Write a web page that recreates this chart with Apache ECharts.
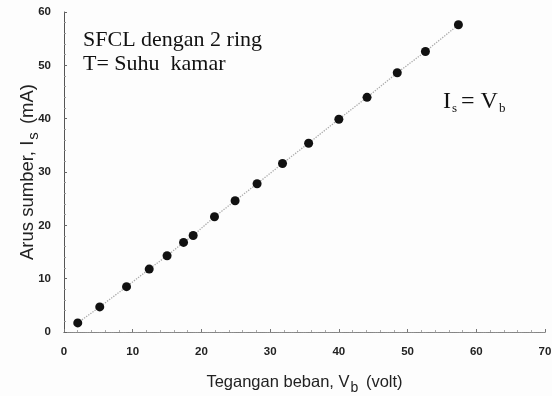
<!DOCTYPE html>
<html>
<head>
<meta charset="utf-8">
<script src="https://cdn.jsdelivr.net/npm/echarts@6/dist/echarts.min.js"></script>
<style>
  html, body { margin: 0; padding: 0; background: #fdfdfd; }
  #chart { width: 552px; height: 396px; }
</style>
</head>
<body>
<div id="chart"></div>
<script>
// Load voltage V_b (volt) and source current I_s (mA), SFCL with 2 rings at room temperature
const loadVoltage = [2.0, 5.2, 9.1, 12.4, 15.0, 17.4, 18.8, 21.9, 24.9, 28.1, 31.8, 35.6, 40.0, 44.1, 48.5, 52.6, 57.4];
const sourceCurrent = [1.7, 4.7, 8.5, 11.8, 14.3, 16.8, 18.1, 21.6, 24.6, 27.8, 31.6, 35.4, 39.9, 44.0, 48.6, 52.6, 57.6];

const xTicks = { min: 0, max: 70, interval: 10 };
const yTicks = { min: 0, max: 60, interval: 10 };

const points = loadVoltage.map((v, i) => [v, sourceCurrent[i]]);

const chart = echarts.init(document.getElementById('chart'));

const sans = 'Liberation Sans, Arial, sans-serif';
const serif = 'Liberation Serif, Times New Roman, serif';

const tickLabel = {
  color: '#222',
  fontFamily: sans,
  fontSize: 11.5,
  fontWeight: 'bold'
};

chart.setOption({
  backgroundColor: '#fdfdfd',
  animation: false,
  grid: { left: 64, right: 7, top: 12, bottom: 64, containLabel: false, outerBoundsMode: 'none' },
  xAxis: [{
    type: 'value',
    min: xTicks.min, max: xTicks.max, interval: xTicks.interval,
    name: '{t|Tegangan beban, V}{s|b}{t| (volt)}',
    nameLocation: 'middle',
    nameGap: 38,
    nameMoveOverlap: false,
    nameTextStyle: {
      rich: {
        t: { fontFamily: sans, fontSize: 16.5, color: '#222', lineHeight: 20 },
        s: { fontFamily: sans, fontSize: 14, color: '#222', padding: [11, 3, 0, 1] }
      }
    },
    axisLine: { lineStyle: { color: '#777', type: 'dotted', width: 1 } },
    axisTick: { inside: true, length: 3, lineStyle: { color: '#777' } },
    minorTick: { show: true, splitNumber: 5, length: 2, lineStyle: { color: '#aaa' } },
    axisLabel: Object.assign({ margin: 14 }, tickLabel),
    splitLine: { show: false }
  }, {
    type: 'value', position: 'top',
    min: xTicks.min, max: xTicks.max, interval: xTicks.interval,
    axisLine: { show: true, lineStyle: { color: '#888', type: 'dotted', width: 1.2 } },
    axisTick: { show: false }, axisLabel: { show: false }, splitLine: { show: false }
  }],
  yAxis: [{
    type: 'value',
    min: yTicks.min, max: yTicks.max, interval: yTicks.interval,
    name: '{t|Arus sumber, I}{s|s}{t| (mA)}',
    nameLocation: 'middle',
    nameRotate: 90,
    nameGap: 23,
    nameMoveOverlap: false,
    nameTextStyle: {
      rich: {
        t: { fontFamily: sans, fontSize: 18.5, color: '#222', lineHeight: 21 },
        s: { fontFamily: sans, fontSize: 15, color: '#222', padding: [11, 3, 0, 1] }
      }
    },
    axisLine: { show: true, lineStyle: { color: '#666', type: 'dotted', width: 1 } },
    axisTick: { inside: true, length: 3, lineStyle: { color: '#666' } },
    minorTick: { show: true, splitNumber: 5, length: 2, lineStyle: { color: '#999' } },
    axisLabel: Object.assign({ margin: 13 }, tickLabel),
    splitLine: { show: false }
  }, {
    type: 'value', position: 'right',
    min: yTicks.min, max: yTicks.max, interval: yTicks.interval,
    axisLine: { show: true, lineStyle: { color: '#555', width: 1 } },
    axisTick: { show: false }, axisLabel: { show: false }, splitLine: { show: false }
  }],
  graphic: [{
    type: 'text', left: 83, top: 28,
    style: {
      text: 'SFCL dengan 2 ring\nT= Suhu  kamar',
      fontFamily: serif,
      fontSize: 22, lineHeight: 24, fill: '#111'
    }
  }, {
    type: 'text', left: 443, top: 90,
    style: {
      text: '{t|I}{s|s}{t|= V}{s|b}',
      rich: {
        t: { fontFamily: serif, fontSize: 24, fill: '#111', lineHeight: 26 },
        s: { fontFamily: serif, fontSize: 13, fill: '#111', padding: [14, 4, 0, 1] }
      }
    }
  }],
  series: [{
    type: 'line',
    data: points,
    symbol: 'circle',
    symbolSize: 9,
    itemStyle: { color: '#111' },
    lineStyle: { color: '#aaa', type: 'dotted', width: 1.3 },
    z: 3
  }]
});
</script>
</body>
</html>
